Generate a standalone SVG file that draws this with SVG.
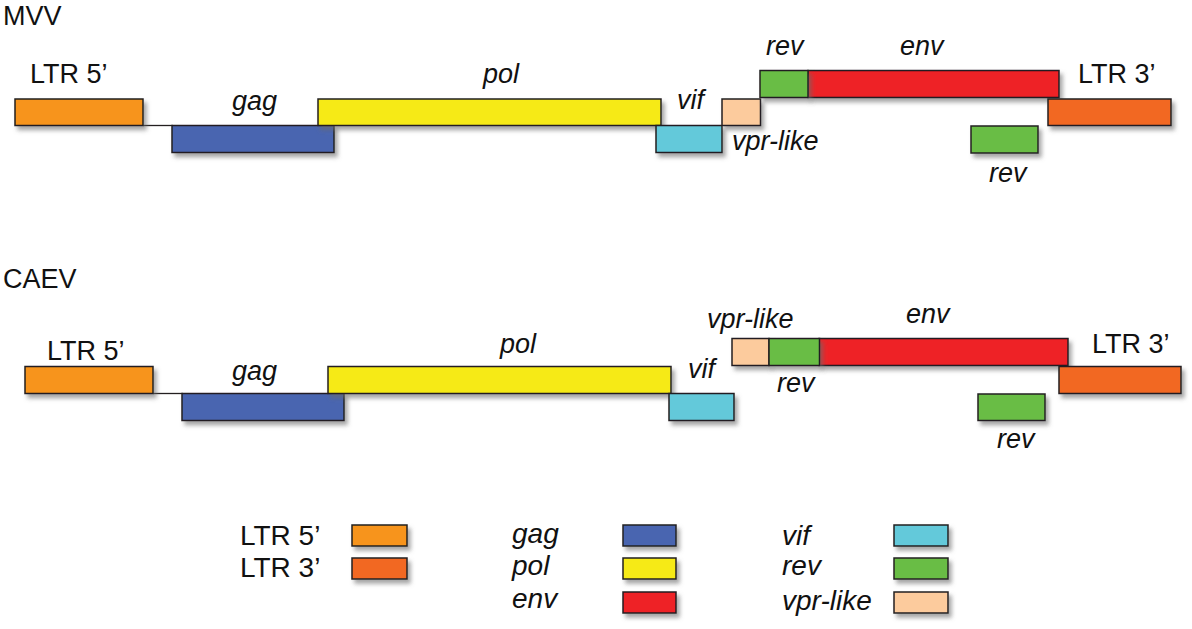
<svg xmlns="http://www.w3.org/2000/svg" width="1192" height="629" viewBox="0 0 1192 629">
  <style>
    .b { stroke: #231F20; stroke-width: 1.5; filter: url(#sh); }
    .ltr5 { fill: #F7941E; }
    .ltr3 { fill: #F26722; }
    .gag { fill: #4A65B0; }
    .pol { fill: #F6EA14; }
    .env { fill: #EE2025; }
    .vif { fill: #64C9DA; }
    .rev { fill: #69BD45; }
    .vpr { fill: #FCCB9D; }
    text { font-family: "Liberation Sans", Arial, sans-serif; font-size: 27px; fill: #111; }
    .i { font-style: italic; }
    .lg text { font-size: 28px; }
    .line { stroke: #231F20; stroke-width: 1.3; fill: none; }
  </style>
  <defs>
    <filter id="sh" x="-10%" y="-30%" width="130%" height="180%">
      <feDropShadow dx="3" dy="4" stdDeviation="2" flood-color="#6a6a6a" flood-opacity="0.6"/>
    </filter>
  </defs>
  <rect width="1192" height="629" fill="#ffffff"/>

  <!-- MVV -->
  <text x="3" y="25">MVV</text>
  <g id="connectors">
    <line class="line" x1="143" y1="125.5" x2="173" y2="125.5"/>
    <line class="line" x1="153" y1="393.5" x2="183" y2="393.5"/>
  </g>
  <g id="mvv-ltr5"><rect class="b ltr5" x="15" y="99" width="128" height="26.5"/><text x="30" y="83">LTR 5’</text></g>
  <g id="mvv-gag"><rect class="b gag" x="172" y="125.5" width="162" height="27"/><text class="i" x="232" y="110">gag</text></g>
  <g id="mvv-pol"><rect class="b pol" x="318" y="99" width="343" height="26.5"/><text class="i" x="483" y="83">pol</text></g>
  <g id="mvv-vif"><rect class="b vif" x="656" y="125.5" width="66" height="27"/><text class="i" x="677" y="109">vif</text></g>
  <g id="mvv-vpr"><rect class="b vpr" x="722" y="99" width="38.5" height="26.5"/><text class="i" x="732" y="150">vpr-like</text></g>
  <g id="mvv-env"><rect class="b env" x="808" y="70.5" width="251" height="27"/><text class="i" x="900" y="55">env</text></g>
  <g id="mvv-rev1"><rect class="b rev" x="760" y="70.5" width="48" height="27"/><text class="i" x="766" y="55">rev</text></g>
  <g id="mvv-ltr3"><rect class="b ltr3" x="1048" y="99" width="123" height="26.5"/><text x="1078" y="83">LTR 3’</text></g>
  <g id="mvv-rev2"><rect class="b rev" x="971" y="126" width="67" height="27"/><text class="i" x="989" y="182">rev</text></g>

  <!-- CAEV -->
  <text x="3" y="288">CAEV</text>
  <g id="caev-ltr5"><rect class="b ltr5" x="25" y="366.5" width="128" height="27"/><text x="47" y="360">LTR 5’</text></g>
  <g id="caev-gag"><rect class="b gag" x="182" y="393.5" width="162" height="27"/><text class="i" x="232" y="380">gag</text></g>
  <g id="caev-pol"><rect class="b pol" x="328" y="366.5" width="343" height="27"/><text class="i" x="500" y="353">pol</text></g>
  <g id="caev-vif"><rect class="b vif" x="669" y="393.5" width="65" height="27"/><text class="i" x="688" y="378">vif</text></g>
  <g id="caev-env"><rect class="b env" x="819" y="338.5" width="249" height="27"/><text class="i" x="906" y="323">env</text></g>
  <g id="caev-vpr"><rect class="b vpr" x="732" y="338.5" width="37" height="27"/><text class="i" x="707" y="328">vpr-like</text></g>
  <g id="caev-rev1"><rect class="b rev" x="769" y="338.5" width="50.5" height="27"/><text class="i" x="777" y="392">rev</text></g>
  <g id="caev-ltr3"><rect class="b ltr3" x="1059" y="366.5" width="122" height="27"/><text x="1092" y="353">LTR 3’</text></g>
  <g id="caev-rev2"><rect class="b rev" x="978" y="394" width="67" height="26.5"/><text class="i" x="997" y="448">rev</text></g>

  <!-- Legend -->
  <g class="lg" id="legend">
    <g id="lg-ltr5"><text x="240" y="545">LTR 5’</text><rect class="b ltr5" x="352" y="525" width="55" height="21"/></g>
    <g id="lg-ltr3"><text x="240" y="577">LTR 3’</text><rect class="b ltr3" x="352" y="558" width="55" height="21"/></g>
    <g id="lg-gag"><text class="i" x="512" y="543">gag</text><rect class="b gag" x="623" y="525" width="53" height="21"/></g>
    <g id="lg-pol"><text class="i" x="512" y="575">pol</text><rect class="b pol" x="623" y="558" width="53" height="21"/></g>
    <g id="lg-env"><text class="i" x="512" y="608">env</text><rect class="b env" x="623" y="592" width="53" height="21"/></g>
    <g id="lg-vif"><text class="i" x="782" y="545">vif</text><rect class="b vif" x="894" y="525" width="54" height="21"/></g>
    <g id="lg-rev"><text class="i" x="782" y="575">rev</text><rect class="b rev" x="894" y="558" width="54" height="21"/></g>
    <g id="lg-vpr"><text class="i" x="782" y="610">vpr-like</text><rect class="b vpr" x="894" y="592" width="54" height="21"/></g>
  </g>
</svg>
